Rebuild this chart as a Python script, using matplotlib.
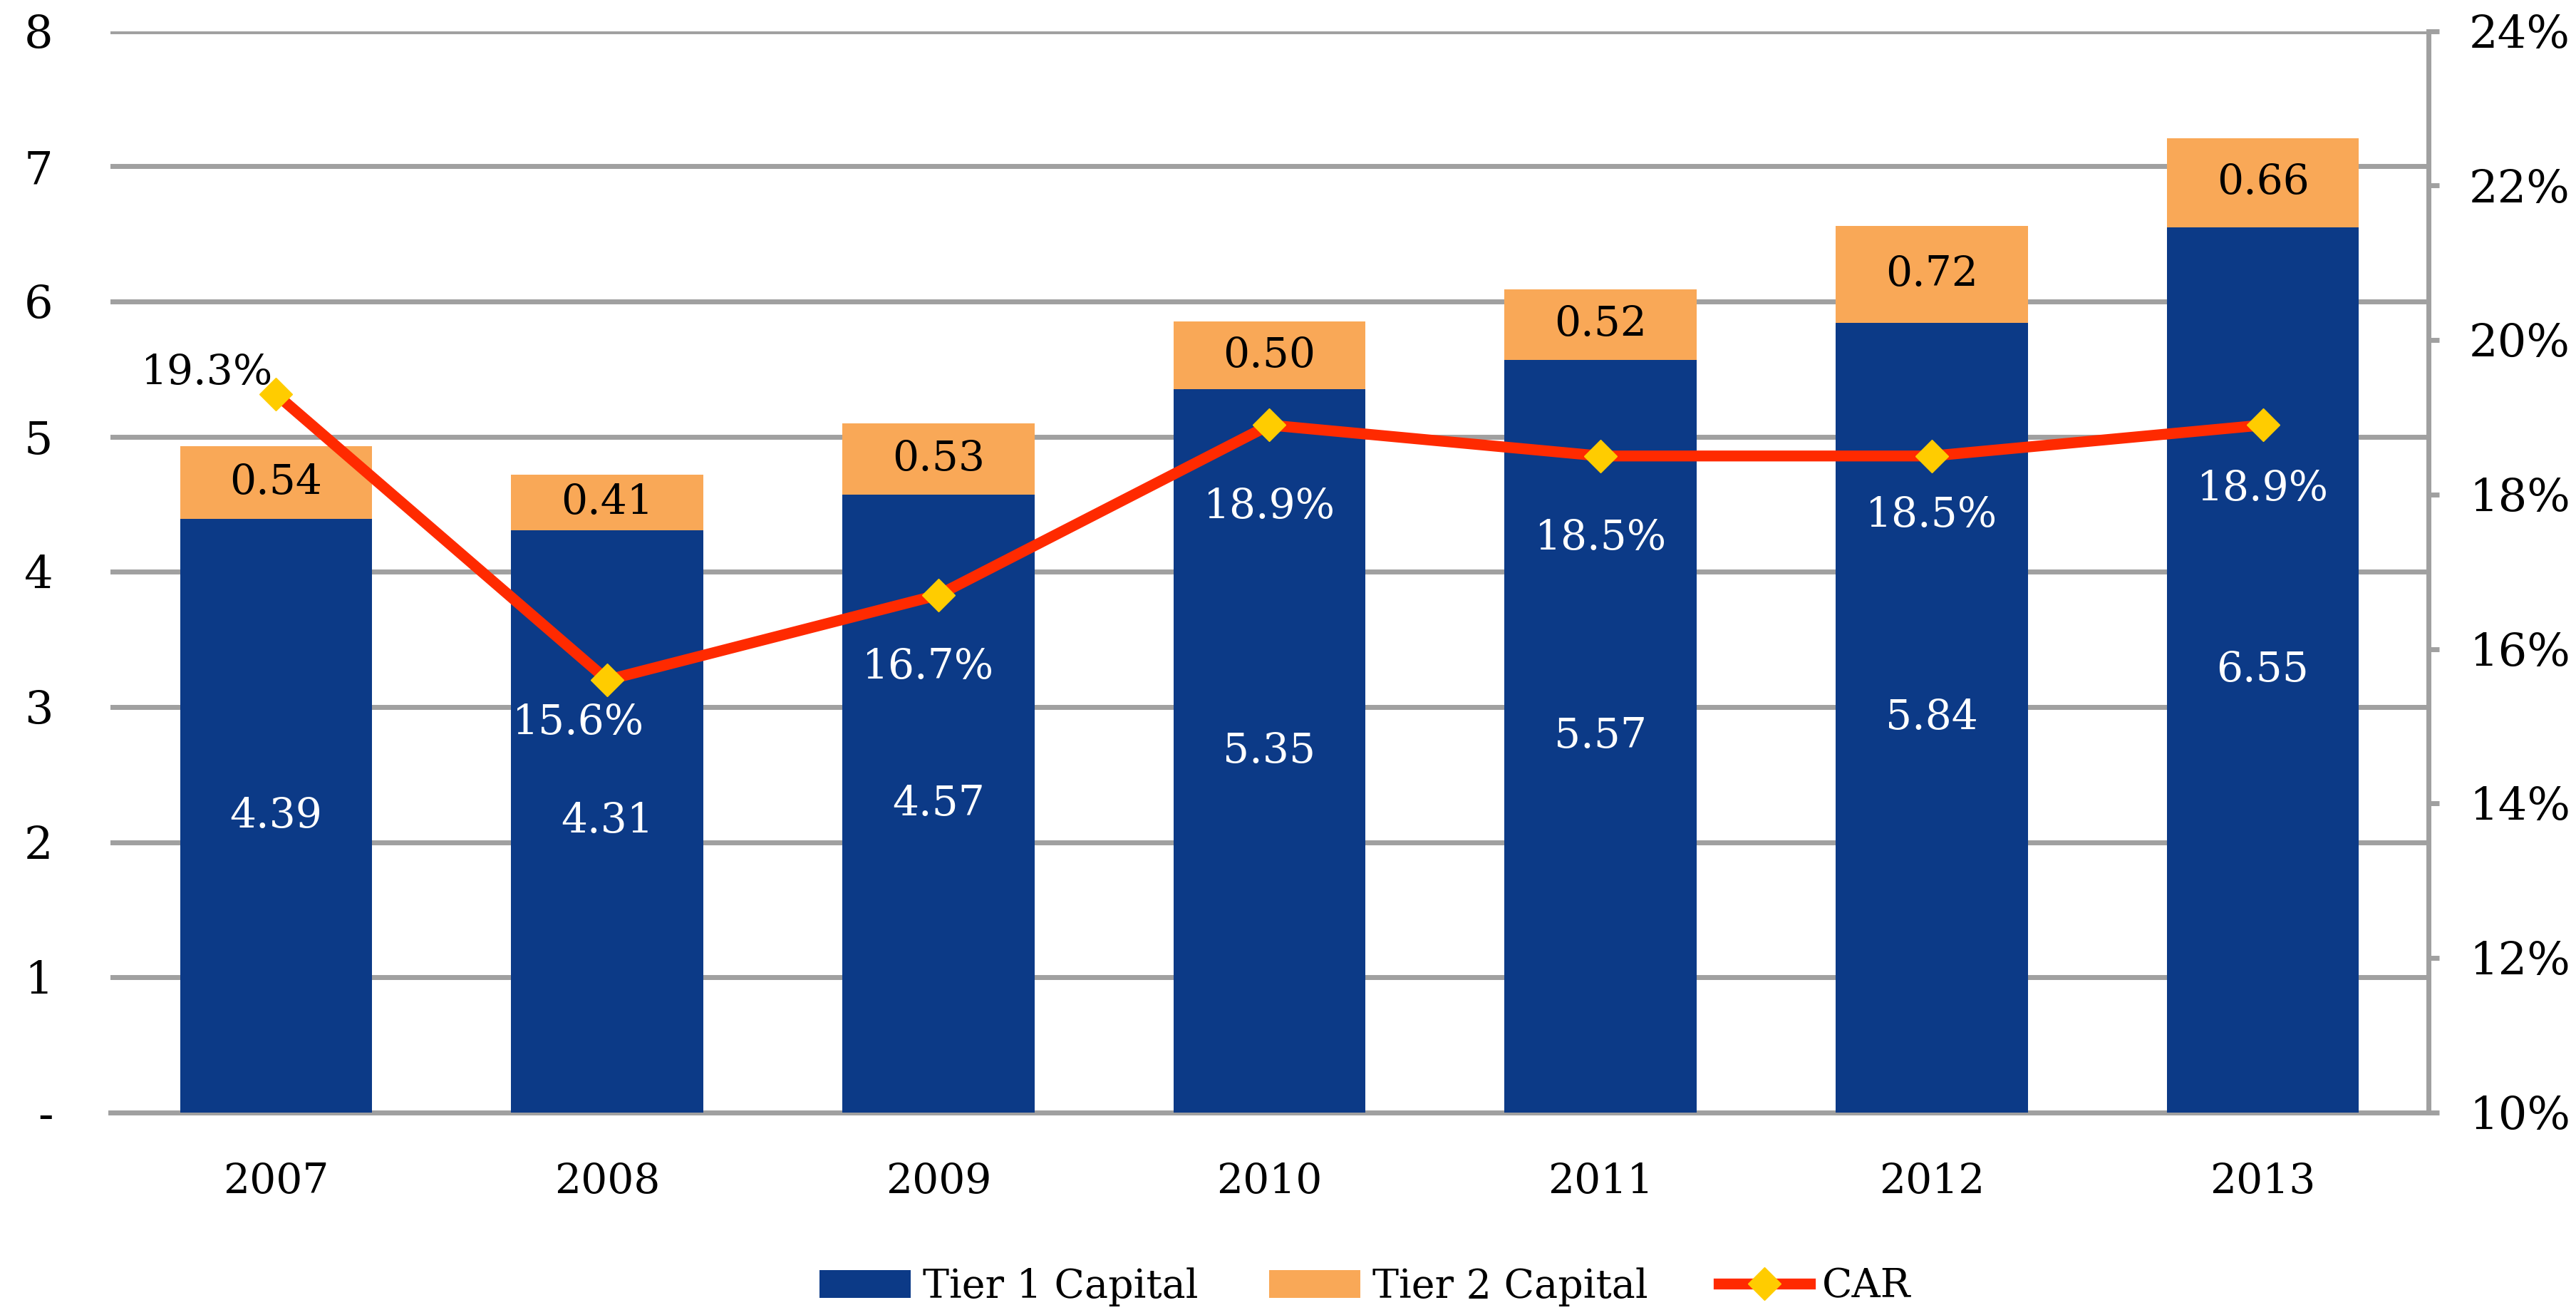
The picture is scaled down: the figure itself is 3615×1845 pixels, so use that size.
import matplotlib
matplotlib.use('Agg')
import matplotlib.pyplot as plt
import numpy as np

# --- data ---
years = ['2007', '2008', '2009', '2010', '2011', '2012', '2013']
tier1 = [4.39, 4.31, 4.57, 5.35, 5.57, 5.84, 6.55]
tier2 = [0.54, 0.41, 0.53, 0.50, 0.52, 0.72, 0.66]
car = [19.3, 15.6, 16.7, 18.9, 18.5, 18.5, 18.9]

# where each CAR label sits relative to its marker (pixels)
car_offsets = [(-97, 30), (-41, -60), (-14, -101), (0, -115), (0, -115), (0, -83), (0, -90)]

blue = '#0C3A87'
orange = '#F9A857'
red = '#FF2A00'
yellow = '#FFCC00'
grey = '#A0A0A0'

plt.rcParams['font.family'] = ['DejaVu Serif']
fs = 42

fig = plt.figure(figsize=(36.15, 18.45), dpi=100)
ax = fig.add_axes([0.0429, 0.1540, 0.8998, 0.8223])
ax2 = ax.twinx()

x = np.arange(len(years))
w = 0.58
ax.bar(x, tier1, w, color=blue, label='Tier 1 Capital', zorder=3)
ax.bar(x, tier2, w, bottom=tier1, color=orange, label='Tier 2 Capital', zorder=3)

for i in range(len(years)):
    ax.text(x[i], tier1[i] / 2, f'{tier1[i]:.2f}', ha='center', va='center',
            color='white', fontsize=fs, zorder=4)
    ax.text(x[i], tier1[i] + tier2[i] / 2, f'{tier2[i]:.2f}', ha='center', va='center',
            color='black', fontsize=fs, zorder=4)

ax.set_xlim(-0.5, len(years) - 0.5)
ax.set_ylim(0, 8)
ax.set_yticks(range(0, 9))
ax.set_yticklabels(['-'] + [str(v) for v in range(1, 9)])
ax.set_xticks(x)
ax.set_xticklabels(years)
ax.grid(axis='y', color=grey, linewidth=5, zorder=0)
ax.set_axisbelow(True)
ax.tick_params(axis='y', length=0, labelsize=fs + 4, pad=58)
ax.tick_params(axis='x', length=0, labelsize=fs, pad=50)
for s in ['left', 'top', 'right']:
    ax.spines[s].set_visible(False)
ax.spines['bottom'].set_color(grey)
ax.spines['bottom'].set_linewidth(5)

ax2.plot(x, car, color=red, linewidth=11, marker='D', markersize=23,
         markerfacecolor=yellow, markeredgecolor=yellow, label='CAR', zorder=5)
for i in range(len(years)):
    ax2.annotate(f'{car[i]:.1f}%', (x[i], car[i]), xytext=car_offsets[i],
                 textcoords='offset pixels', ha='center', va='center',
                 color='black' if i == 0 else 'white', fontsize=fs, zorder=6)
ax2.set_ylim(10, 24)
ax2.set_yticks(range(10, 25, 2))
ax2.set_yticklabels([f'{v}%' for v in range(10, 25, 2)])
ax2.tick_params(axis='y', length=11, width=5, color=grey, labelsize=fs + 4, pad=30)
for s in ['left', 'top', 'bottom']:
    ax2.spines[s].set_visible(False)
ax2.spines['right'].set_color(grey)
ax2.spines['right'].set_linewidth(5)

h1, l1 = ax.get_legend_handles_labels()
h2, l2 = ax2.get_legend_handles_labels()
fig.legend(h1 + h2, l1 + l2, loc='center', bbox_to_anchor=(0.53, 0.0215), ncol=3,
           frameon=False, fontsize=fs - 2, handlelength=2.3, handleheight=0.7,
           handletextpad=0.3, columnspacing=1.8)

fig.savefig('out.png', dpi=100)
